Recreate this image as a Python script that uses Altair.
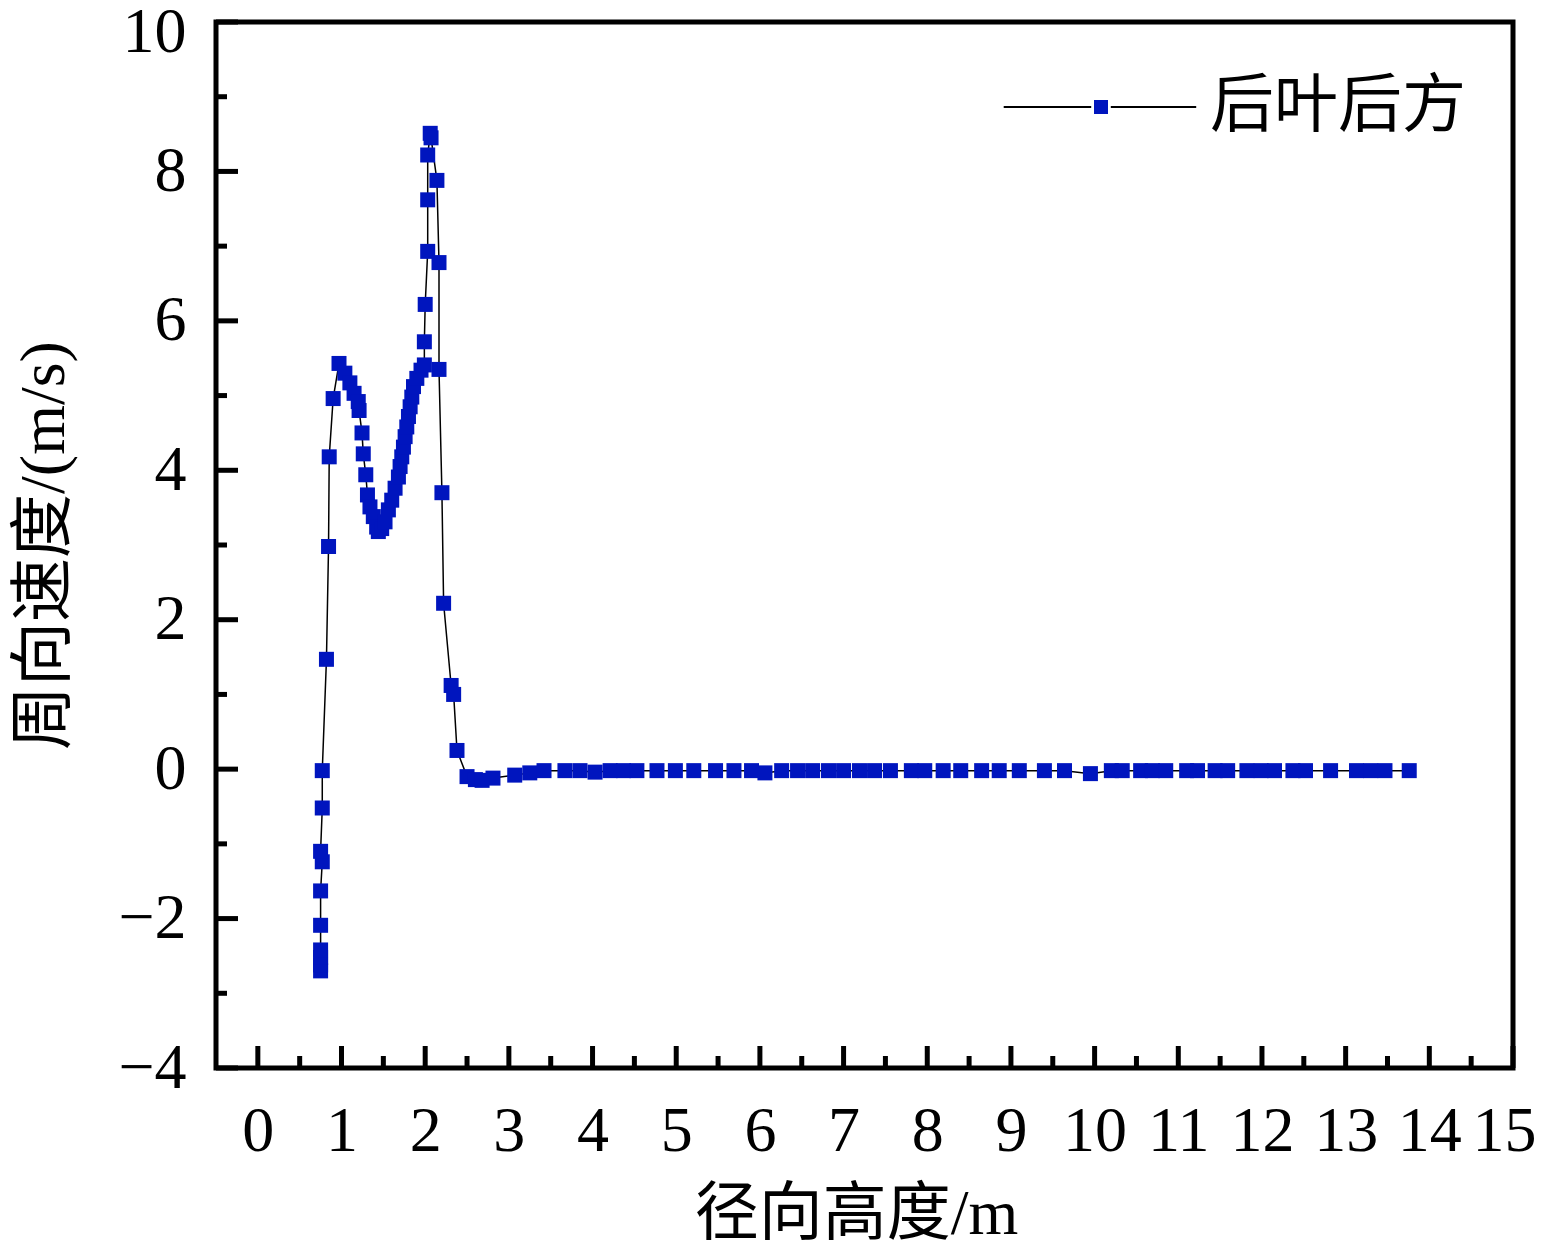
import altair as alt
import pandas as pd

# ---- data ----
series_name = "后叶后方"

x_vals = [0.75, 0.75, 0.75, 0.75, 0.75, 0.75, 0.77, 0.75, 0.77, 0.77,
          0.82, 0.845, 0.853, 0.90, 0.97,
          1.04, 1.10, 1.15, 1.20, 1.21,
          1.245, 1.26, 1.29, 1.31, 1.34, 1.38, 1.42, 1.44,
          1.48, 1.52, 1.56, 1.60, 1.64, 1.68, 1.70, 1.72, 1.74, 1.76, 1.78, 1.80,
          1.82, 1.84, 1.86, 1.90, 1.95, 1.99,
          1.99, 2.00, 2.03, 2.03, 2.03, 2.06, 2.07,
          2.14, 2.165, 2.165, 2.20, 2.22,
          2.31, 2.34, 2.38,
          2.50, 2.60, 2.68, 2.81,
          3.07, 3.25, 3.42,
          3.67, 3.85, 4.03, 4.21, 4.37, 4.53,
          4.77, 4.99, 5.21, 5.47, 5.69, 5.90, 6.06,
          6.26, 6.45, 6.63, 6.82, 7.00, 7.19, 7.37, 7.56,
          7.81, 7.97, 8.19, 8.40, 8.65, 8.86, 9.10, 9.40, 9.64, 9.95,
          10.20, 10.33, 10.55, 10.69, 10.85, 11.10, 11.23, 11.44, 11.59, 11.82,
          11.99, 12.15, 12.37, 12.52, 12.82, 13.13, 13.30, 13.47, 13.76]

y_vals = [-2.70, -2.62, -2.52, -2.42, -2.09, -1.63, -1.24, -1.10, -0.52, -0.02,
          1.47, 2.98, 4.18, 4.96, 5.43,
          5.30, 5.17, 5.03, 4.92, 4.80,
          4.50, 4.22, 3.94, 3.67, 3.51, 3.38, 3.24, 3.18,
          3.22, 3.31, 3.47, 3.60, 3.76, 3.91, 4.05, 4.18, 4.31, 4.45, 4.58, 4.72,
          4.85, 4.98, 5.12, 5.23, 5.34, 5.41,
          5.72, 6.22, 6.93, 7.62, 8.22, 8.51, 8.45,
          7.88, 6.78, 5.35, 3.70, 2.22,
          1.12, 1.00, 0.25,
          -0.10, -0.14, -0.15, -0.12,
          -0.08, -0.05, -0.02,
          -0.02, -0.02, -0.04, -0.02, -0.02, -0.02,
          -0.02, -0.02, -0.02, -0.02, -0.02, -0.02, -0.05,
          -0.02, -0.02, -0.02, -0.02, -0.02, -0.02, -0.02, -0.02,
          -0.02, -0.02, -0.02, -0.02, -0.02, -0.02, -0.02, -0.02, -0.02, -0.06,
          -0.02, -0.02, -0.02, -0.02, -0.02, -0.02, -0.02, -0.02, -0.02, -0.02,
          -0.02, -0.02, -0.02, -0.02, -0.02, -0.02, -0.02, -0.02, -0.02]

x_major = list(range(0, 16))
x_minor = [i + 0.5 for i in range(0, 15)]
y_major = list(range(-4, 11, 2))
y_minor = list(range(-3, 10, 2))

x_title = "径向高度/m"
y_title = "周向速度/(m/s)"

# ---- styling ----
W, H = 1297, 1046
BLUE = "#0015BE"
NUM_FONT = "Liberation Serif"
TXT_FONT = "Liberation Serif, Noto Sans CJK SC"
FS = 64

df = pd.DataFrame({
    "x": x_vals,
    "y": y_vals,
    "idx": list(range(len(x_vals))),
    "s_pt": [series_name] * len(x_vals),
    "s_ln": [series_name] * len(x_vals),
})

xscale = alt.Scale(domain=[-0.5, 15], nice=False, zero=False)
yscale = alt.Scale(domain=[-4, 10], nice=False, zero=False)

x_axis = alt.Axis(
    values=x_major, title=x_title, domain=False, ticks=False, grid=False,
    labelFont=NUM_FONT, labelFontSize=FS, labelColor="black",
    labelBaseline="middle", labelPadding=63, labelFlush=False, labelOverlap=False,
    labelOffset={"condition": {"test": "datum.value == 15", "value": -9}, "value": 0},
    titleFont=TXT_FONT, titleFontSize=FS, titleFontWeight="normal", titleColor="black",
    titleX=640, titleY=146, titleBaseline="middle",
)
y_axis = alt.Axis(
    values=y_major, title=y_title, domain=False, ticks=False, grid=False,
    labelFont=NUM_FONT, labelFontSize=FS, labelColor="black",
    labelPadding=30, labelFlush=False, labelOverlap=False,
    labelOffset={"condition": {"test": "datum.value == 10", "value": 10}, "value": 0},
    titleFont=TXT_FONT, titleFontSize=FS, titleFontWeight="normal", titleColor="black",
    titleX=-172, titleY=523, titleBaseline="middle", titleAngle=270,
)

line = alt.Chart(df).mark_line(strokeWidth=1.5).encode(
    x=alt.X("x:Q", scale=xscale, axis=x_axis),
    y=alt.Y("y:Q", scale=yscale, axis=y_axis),
    order=alt.Order("idx:Q"),
    stroke=alt.Stroke(
        "s_ln:N", scale=alt.Scale(range=["black"]),
        legend=alt.Legend(
            orient="none", legendX=853, legendY=53, title=None, padding=0,
            symbolType="M-13.9,0L-1.4,0M1.4,0L13.6,0", symbolSize=196,
            symbolStrokeWidth=2, labelExpr="''", labelFontSize=FS,
        ),
    ),
)

points = alt.Chart(df).mark_point(shape="square", filled=True, size=225, opacity=1).encode(
    x=alt.X("x:Q", scale=xscale, axis=x_axis),
    y=alt.Y("y:Q", scale=yscale, axis=y_axis),
    fill=alt.Fill(
        "s_pt:N", scale=alt.Scale(range=[BLUE]),
        legend=alt.Legend(
            orient="none", legendX=853, legendY=53, title=None, padding=0,
            symbolType="square", symbolSize=196, symbolStrokeWidth=0,
            labelFont="Noto Sans CJK SC", labelFontSize=FS, labelColor="black",
            labelOffset=77, labelLimit=0,
        ),
    ),
)

xt_major = alt.Chart(pd.DataFrame({"x": x_major})).mark_rule(color="black", strokeWidth=5).encode(
    x=alt.X("x:Q", scale=xscale, axis=x_axis), y=alt.value(H), y2=alt.value(H - 22))
xt_minor = alt.Chart(pd.DataFrame({"x": x_minor})).mark_rule(color="black", strokeWidth=5).encode(
    x=alt.X("x:Q", scale=xscale, axis=x_axis), y=alt.value(H), y2=alt.value(H - 12))
yt_major = alt.Chart(pd.DataFrame({"y": y_major})).mark_rule(color="black", strokeWidth=5).encode(
    y=alt.Y("y:Q", scale=yscale, axis=y_axis), x=alt.value(0), x2=alt.value(22))
yt_minor = alt.Chart(pd.DataFrame({"y": y_minor})).mark_rule(color="black", strokeWidth=5).encode(
    y=alt.Y("y:Q", scale=yscale, axis=y_axis), x=alt.value(0), x2=alt.value(11))

chart = alt.layer(line, points, xt_major, xt_minor, yt_major, yt_minor).properties(
    width=W, height=H,
    autosize=alt.AutoSizeParams(type="none"),
    padding={"left": 208, "top": 14, "right": 24, "bottom": 176},
    background="white",
).configure_view(stroke="black", strokeWidth=5)

chart.save("out.html", embed_options={"renderer": "svg", "actions": False})
